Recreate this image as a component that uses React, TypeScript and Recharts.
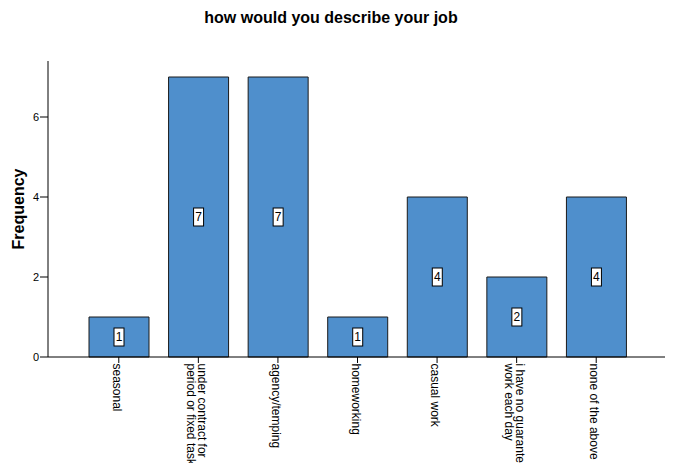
import React from "react";
import { BarChart, Bar, XAxis, YAxis, LabelList } from "recharts";

const categories = [
  "seasonal",
  "under contract for\nperiod or fixed task",
  "agency/temping",
  "homeworking",
  "casual work",
  "i have no guarantee\nwork each day",
  "none of the above",
];
const frequencies = [1, 7, 7, 1, 4, 2, 4];
const yTicks = [0, 2, 4, 6];

const data = categories.map((name, i) => ({ name, value: frequencies[i] }));

const FONT = '"Liberation Sans", Arial, Helvetica, sans-serif';
const BAR_COLOR = "#4f8fcc";

function RotatedTick(props: any) {
  const { x, y, payload } = props;
  const lines = String(payload.value).split("\n");
  const lineH = 10.5;
  const y1 = 6 - (lines.length - 1) * (lineH / 2);
  return (
    <g transform={`translate(${x},${y})`}>
      <g transform="rotate(90)">
        {lines.map((line, i) => (
          <text
            key={i}
            x={0.5}
            y={y1 + i * lineH}
            textAnchor="start"
            fontSize={12}
            fontFamily={FONT}
            fill="#000"
          >
            {line}
          </text>
        ))}
      </g>
    </g>
  );
}

function ValueBox(props: any) {
  const { x, y, width, height, value } = props;
  const cx = Number(x) + Number(width) / 2;
  const cy = Number(y) + Number(height) / 2;
  return (
    <g>
      <rect x={cx - 5} y={cy - 9} width={10} height={18} fill="#fff" stroke="#000" strokeWidth={1} />
      <text x={cx} y={cy + 4} textAnchor="middle" fontSize={12} fontFamily={FONT} fill="#000">
        {value}
      </text>
    </g>
  );
}

export default function App() {
  return (
    <div style={{ position: "relative", width: 665, height: 455 }}>
      <BarChart
        width={665}
        height={455}
        data={data}
        margin={{ top: 53, right: 6, bottom: 0, left: 0 }}
      >
        <XAxis
          dataKey="name"
          interval={0}
          height={106}
          padding={{ left: 31, right: 31 }}
          axisLine={{ stroke: "#000", strokeWidth: 1 }}
          tickLine={{ stroke: "#000", strokeWidth: 1 }}
          tickSize={6}
          tickMargin={0}
          tick={<RotatedTick />}
        />
        <YAxis
          width={40}
          domain={[0, 7.4]}
          ticks={yTicks}
          allowDecimals={false}
          axisLine={{ stroke: "#000", strokeWidth: 1 }}
          tickLine={{ stroke: "#000", strokeWidth: 1 }}
          tickSize={8}
          tickMargin={1}
          tick={{ fill: "#000", fontSize: 11, fontFamily: FONT }}
        />
        <Bar
          dataKey="value"
          fill={BAR_COLOR}
          stroke="#1a1a1a"
          strokeWidth={1}
          barSize={60}
          isAnimationActive={false}
        >
          <LabelList dataKey="value" content={<ValueBox />} />
        </Bar>
      </BarChart>
      <svg
        width={665}
        height={455}
        style={{ position: "absolute", left: 0, top: 0, pointerEvents: "none" }}
      >
        <text
          x={323}
          y={15}
          textAnchor="middle"
          fontSize={16}
          fontWeight="bold"
          fontFamily={FONT}
          fill="#000"
        >
          how would you describe your job
        </text>
        <text
          transform="translate(16,201) rotate(-90)"
          textAnchor="middle"
          fontSize={16}
          fontWeight="bold"
          fontFamily={FONT}
          fill="#000"
        >
          Frequency
        </text>
      </svg>
    </div>
  );
}
